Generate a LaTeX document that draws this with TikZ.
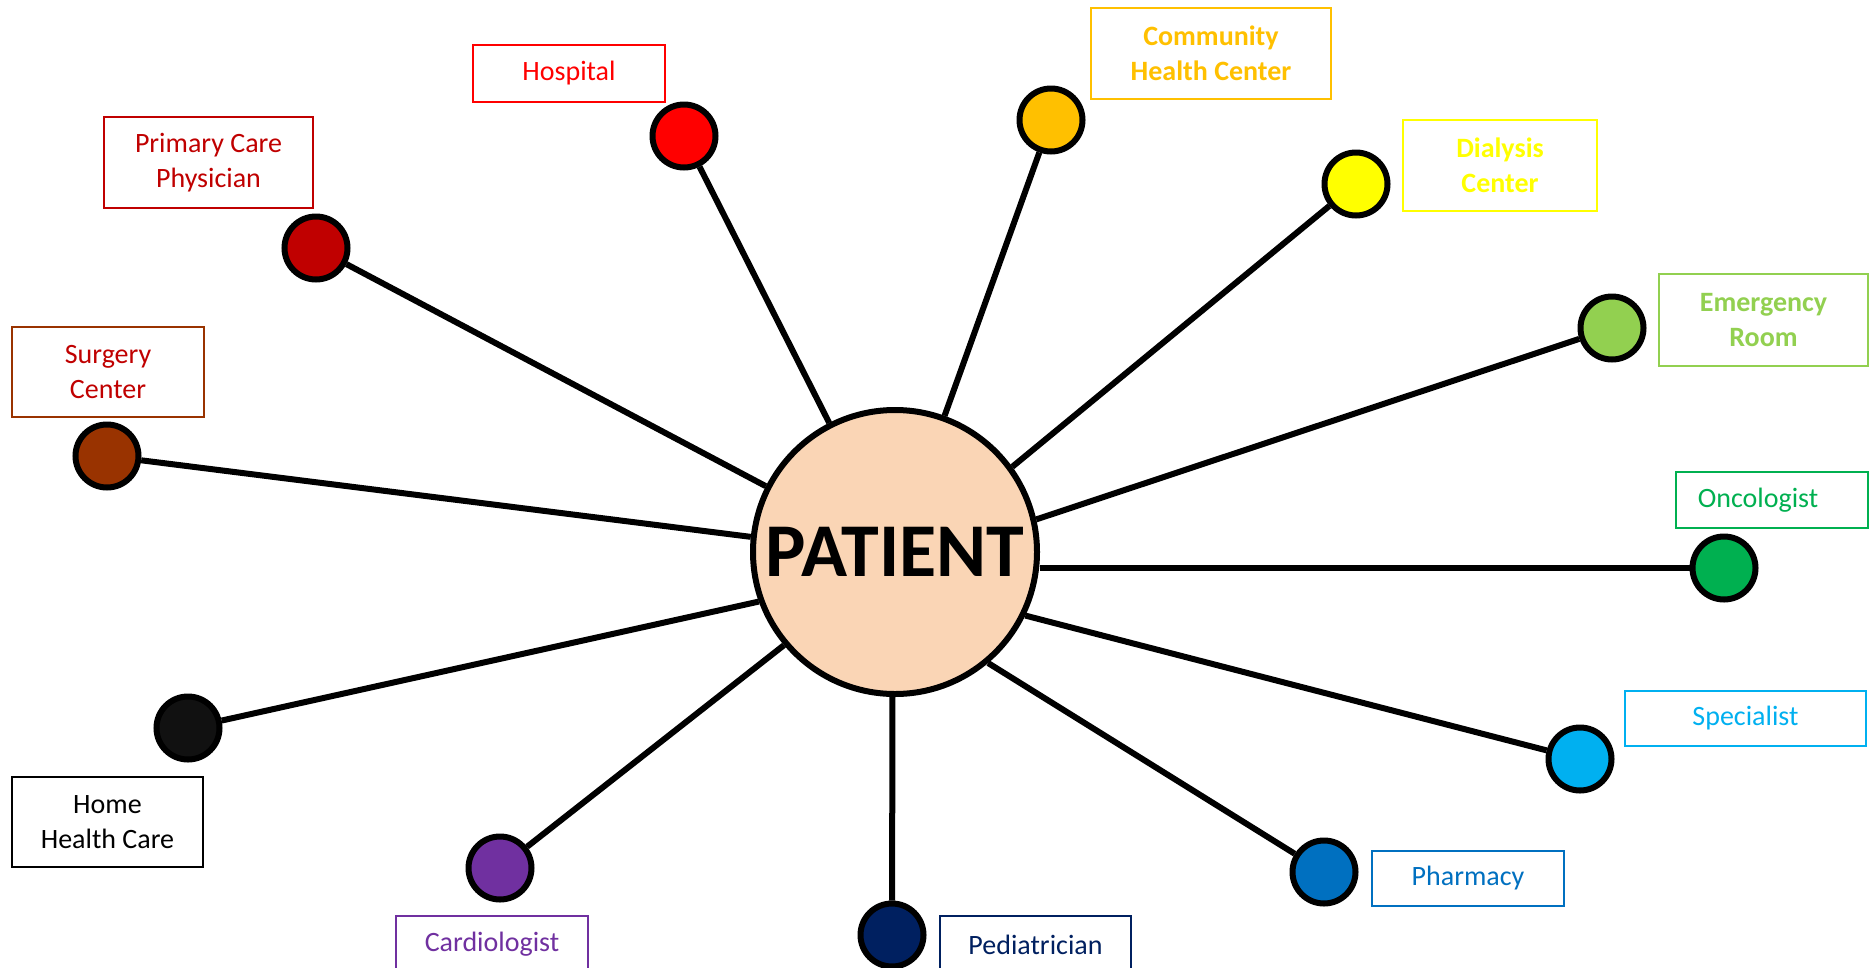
\documentclass[tikz,border=0pt]{standalone}
\usepackage{fontspec}
\setmainfont{Carlito}
\definecolor{cHosp}{HTML}{FF0000}
\definecolor{cPrim}{HTML}{C00000}
\definecolor{cSurg}{HTML}{993300}
\definecolor{cComm}{HTML}{FFC000}
\definecolor{cDial}{HTML}{FFFF00}
\definecolor{cEmer}{HTML}{92D050}
\definecolor{cOnco}{HTML}{00B050}
\definecolor{cSpec}{HTML}{00B0F0}
\definecolor{cPharm}{HTML}{0070C0}
\definecolor{cPed}{HTML}{002060}
\definecolor{cCard}{HTML}{7030A0}
\definecolor{cHome}{HTML}{111111}
\definecolor{cPat}{HTML}{FAD5B5}
\tikzset{
  hub/.style={circle, draw=black, line width=6pt, fill=cPat, minimum size=284pt, inner sep=0pt,
    font=\fontsize{76}{84}\selectfont\bfseries},
  dot/.style={circle, draw=black, line width=6pt, fill=#1, minimum size=63pt, inner sep=0pt},
  lbl/.style={draw=#1, line width=2pt, align=center, inner sep=0pt, fill=white,
    font=\fontsize{28}{35}\selectfont},
  spoke/.style={line width=6pt, black}
}
\begin{document}
\begin{tikzpicture}[x=1pt,y=-1pt]
\useasboundingbox (0,0) rectangle (1875,967);
\clip (0,0) rectangle (1875,967);
\fill[white] (0,0) rectangle (1875,967);

\node[hub] (p) at (895,552) {PATIENT};

% small circles
\node[dot=cHosp] (hosp) at (684,136) {};
\node[dot=cComm] (comm) at (1051,120) {};
\node[dot=cDial] (dial) at (1356,184) {};
\node[dot=cEmer] (emer) at (1612,328) {};
\node[dot=cOnco] (onco) at (1724,568) {};
\node[dot=cSpec] (spec) at (1580,759) {};
\node[dot=cPharm] (pharm) at (1324,872) {};
\node[dot=cPed] (ped) at (892,935) {};
\node[dot=cCard] (card) at (500,868) {};
\node[dot=cHome] (home) at (188,728) {};
\node[dot=cSurg] (surg) at (107,456) {};
\node[dot=cPrim] (prim) at (316,248) {};

% spokes
\draw[spoke] (p.117) -- (hosp);
\draw[spoke] (p.70) -- (comm);
\draw[spoke] (p.36) -- (dial);
\draw[spoke] (p.13) -- (emer);
\draw[spoke] (onco.west) -- (p.east |- onco.west);
\draw[spoke] (p.-26.6) -- (spec);
\draw[spoke] (p.-50.3) -- (pharm);
\draw[spoke] (p.-91) -- (ped);
\draw[spoke] (p.220) -- (card);
\draw[spoke] (p.200) -- (home);
\draw[spoke] (p.174) -- (surg);
\draw[spoke] (p.153.4) -- (prim);

% label boxes
\node[lbl=cHosp, text=cHosp, minimum width=192pt, minimum height=57pt] (lhosp) at (569,73.5) {Hospital};
\node[lbl=cPrim, text=cPrim, minimum width=209pt, minimum height=91pt] (lprim) at (208.5,162.5) {Primary Care\\Physician};
\node[lbl=cSurg, text=cPrim, minimum width=192pt, minimum height=90pt] (lsurg) at (108,372) {Surgery\\Center};
\node[lbl=cComm, text=cComm, minimum width=240pt, minimum height=91pt, font=\fontsize{28}{35}\selectfont\bfseries] (lcomm) at (1211,53.5) {Community\\Health Center};
\node[lbl=cDial, text=cDial, minimum width=194pt, minimum height=91pt, font=\fontsize{28}{35}\selectfont\bfseries] (ldial) at (1500,165.5) {Dialysis\\Center};
\node[lbl=cEmer, text=cEmer, minimum width=209pt, minimum height=92pt, font=\fontsize{28}{35}\selectfont\bfseries] (lemer) at (1763.5,320) {Emergency\\Room};
\node[lbl=cOnco, text=cOnco, minimum width=192pt, minimum height=56pt] (lonco) at (1772,500) {Oncologist\hspace*{28pt}};
\node[lbl=cSpec, text=cSpec, minimum width=241pt, minimum height=55pt] (lspec) at (1745.5,718.5) {Specialist};
\node[lbl=cPharm, text=cPharm, minimum width=192pt, minimum height=55pt] (lpharm) at (1468,878.5) {Pharmacy};
\node[lbl=cPed, text=cPed, minimum width=191pt, minimum height=57pt] (lped) at (1035.5,944.5) {Pediatrician};
\node[lbl=cCard, text=cCard, minimum width=192pt, minimum height=57pt] (lcard) at (492,944.5) {Cardiologist};
\node[lbl=black, text=black, minimum width=191pt, minimum height=90pt] (lhome) at (107.5,822) {Home\\Health Care};
\end{tikzpicture}
\end{document}
